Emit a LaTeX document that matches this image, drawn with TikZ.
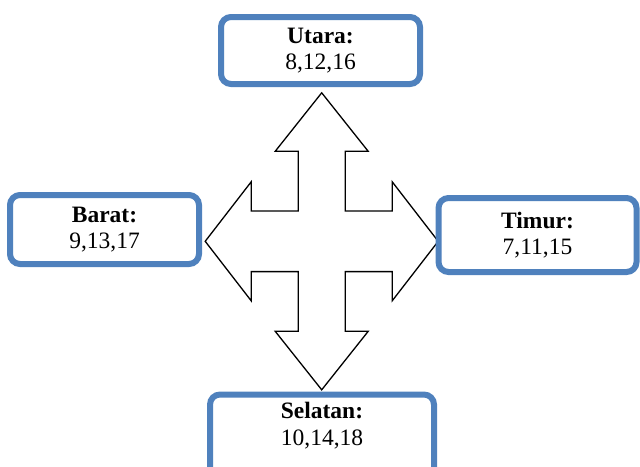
\documentclass[tikz,border=0pt]{standalone}
\usepackage{fontspec}
\setmainfont{Liberation Serif}
\usetikzlibrary{positioning}
\definecolor{boxblue}{RGB}{79,129,189}

\tikzset{
  arahbox/.style={draw=boxblue, line width=3pt, rounded corners=5pt, fill=white,
    align=center, inner sep=0pt, font=\fontsize{11.75}{13.35}\selectfont},
  panah/.style={draw=black, line width=0.65pt, fill=white, line join=miter}
}

\begin{document}
\begin{tikzpicture}[x=0.5pt, y=-0.5pt]
        \useasboundingbox (0,0) rectangle (640,466);

        % Four-way arrow in the middle
        \coordinate (pusat) at (321.7,241.3);
        \draw[panah, shift={(pusat)}]
            (0,-148.5) -- (46.5,-90) -- (23.5,-90) -- (23.5,-30.3)
            -- (70.5,-30.3) -- (70.5,-59.5) -- (116.5,0) -- (70.5,59.5)
            -- (70.5,30.3) -- (23.5,30.3) -- (23.5,90) -- (46.5,90)
            -- (0,148.5) -- (-46.5,90) -- (-23.5,90) -- (-23.5,30.3)
            -- (-70.5,30.3) -- (-70.5,59.5) -- (-116.5,0) -- (-70.5,-59.5)
            -- (-70.5,-30.3) -- (-23.5,-30.3) -- (-23.5,-90) -- (-46.5,-90) -- cycle;

        % Direction boxes
        \node[arahbox, minimum width=99.5pt, minimum height=33.5pt] (utara) at (320.5,50.5)
            {\textbf{Utara:}\\8,12,16};
        \node[arahbox, minimum width=94.5pt, minimum height=34.5pt] (barat) at (104.5,229.5)
            {\textbf{Barat:}\\9,13,17};
        \node[arahbox, minimum width=99pt, minimum height=37pt] (timur) at (537.5,235)
            {\textbf{Timur:}\\7,11,15};
        \node[arahbox, minimum width=112pt, inner ysep=4pt, text depth=23pt, anchor=north] (selatan) at (322,391.5)
            {\textbf{Selatan:}\\10,14,18};

    \end{tikzpicture}
\end{document}
